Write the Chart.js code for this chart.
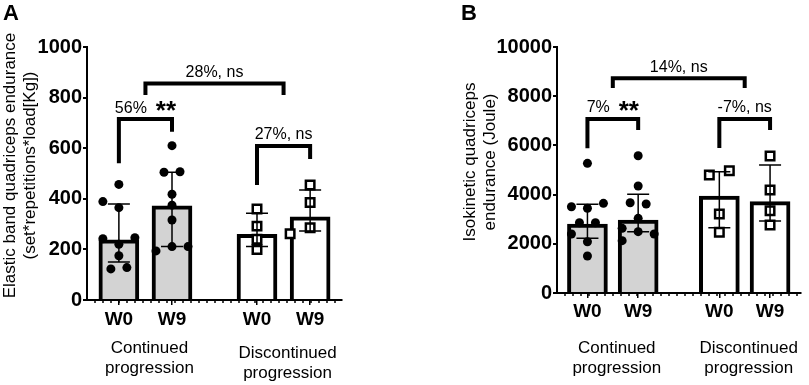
<!DOCTYPE html>
<html>
<head>
<meta charset="utf-8">
<script src="https://cdn.jsdelivr.net/npm/chart.js@4.4.0/dist/chart.umd.min.js"></script>
<style>
  body { margin: 0; background: #fff; }
  canvas { position: absolute; top: 0; }
</style>
</head>
<body>
<canvas id="chartA" width="400" height="385" style="left:0"></canvas>
<canvas id="chartB" width="409" height="385" style="left:400px"></canvas>
<script>
// categories shared by both panels
const categories = ['W0', 'W9', 'W0', 'W9'];
const groupOf = [0, 0, 1, 1];
const groupNames = [['Continued', 'progression'], ['Discontinued', 'progression']];

// panel A - elastic band endurance
const elasticBars = [238, 372, 260, 329];
const elasticLow = [150, 211, 211, 273];
const elasticHigh = [379, 505, 343, 435];
const elasticPoints = [
  [457, 365, 389, 220, 175, 242, 246, 128, 123],
  [610, 507, 505, 418, 375, 316, 211, 194, 211],
  [360, 292, 240, 200],
  [455, 385, 286, 262]
];
const elasticTicks = [0, 200, 400, 600, 800, 1000];
const elasticBrackets = [
  { from: 0, to: 1, level: 715, legs: [541, 665], text: '56%', stars: '**' },
  { from: 0.5, to: 2.5, level: 856, legs: [810, 810], text: '28%, ns' },
  { from: 2, to: 3, level: 609, legs: [455, 557], text: '27%, ns' }
];

// panel B - isokinetic endurance
const isoBars = [2805, 2967, 3943, 3713];
const isoLow = [2223, 2493, 2655, 2927];
const isoHigh = [3606, 4012, 4932, 5203];
const isoPoints = [
  [5272, 3443, 3508, 3646, 2858, 2858, 2085, 2398, 1504],
  [5581, 4350, 3618, 3671, 3035, 2493, 2629, 2398, 2127],
  [4973, 4797, 3211, 2466],
  [5569, 4187, 3346, 2764]
];
const isoTicks = [0, 2000, 4000, 6000, 8000, 10000];
const isoBrackets = [
  { from: 0, to: 1, level: 7073, legs: [5882, 6626], text: '7%', stars: '**' },
  { from: 0.5, to: 2.5, level: 8728, legs: [8330, 8330], text: '14%, ns' },
  { from: 2, to: 3, level: 7073, legs: [5894, 6626], text: '-7%, ns' }
];

const FONT = 'Arial, "Liberation Sans", sans-serif';
const GAP = 0.6; // extra space between the two groups

Chart.defaults.font.family = FONT;
Chart.defaults.color = '#000';

// x value of a bar (fractional index = midpoint of two bars)
function pos(i) {
  const p = k => k + 1 + groupOf[k] * GAP;
  return (p(Math.floor(i)) + p(Math.ceil(i))) / 2;
}

const markers = groupOf.map(g => g === 0
  ? { style: 'circle', radius: 4.5, bg: '#000', border: 0, step: 16, size: 10 }
  : { style: 'rect', radius: 6, bg: '#fff', border: 2.5, step: 20, size: 10 });

function decorPlugin(p) {
  return {
    id: 'decor',
    afterDatasetsDraw(chart) {
      const { ctx, chartArea: a, scales: { x, y } } = chart;
      ctx.save();
      ctx.strokeStyle = '#000';

      // error bars
      ctx.lineWidth = 1.5;
      p.bars.forEach((v, i) => {
        const px = x.getPixelForValue(pos(i));
        const y1 = y.getPixelForValue(p.low[i]);
        const y2 = y.getPixelForValue(p.high[i]);
        ctx.beginPath();
        ctx.moveTo(px, y1); ctx.lineTo(px, y2);
        ctx.moveTo(px - 11, y1); ctx.lineTo(px + 11, y1);
        ctx.moveTo(px - 11, y2); ctx.lineTo(px + 11, y2);
        ctx.stroke();
      });

      // minor ticks along the x axis
      ctx.lineWidth = 1.5;
      for (let px = a.left + 8; px < a.right; px += 8) {
        ctx.beginPath();
        ctx.moveTo(px, a.bottom); ctx.lineTo(px, a.bottom + 3);
        ctx.stroke();
      }

      // comparison brackets
      p.brackets.forEach(b => {
        const xl = x.getPixelForValue(pos(b.from));
        const xr = x.getPixelForValue(pos(b.to));
        const yl = y.getPixelForValue(b.level);
        ctx.lineWidth = 4;
        ctx.lineJoin = 'miter';
        ctx.beginPath();
        ctx.moveTo(xl, y.getPixelForValue(b.legs[0]));
        ctx.lineTo(xl, yl);
        ctx.lineTo(xr, yl);
        ctx.lineTo(xr, y.getPixelForValue(b.legs[1]));
        ctx.stroke();

        const main = b.stars ? b.text + '  ' : b.text;
        ctx.font = '16px ' + FONT;
        const w1 = ctx.measureText(main).width;
        ctx.font = 'bold 26px ' + FONT;
        const w2 = b.stars ? ctx.measureText(b.stars).width : 0;
        const tx = (xl + xr) / 2 - (w1 + w2) / 2;
        const ty = yl - 11;
        ctx.fillStyle = '#000';
        ctx.textAlign = 'left';
        ctx.textBaseline = 'middle';
        ctx.font = '16px ' + FONT;
        ctx.fillText(main, tx, ty);
        if (b.stars) {
          ctx.font = 'bold 26px ' + FONT;
          ctx.textBaseline = 'alphabetic';
          ctx.fillText(b.stars, tx + w1, ty + 10.5);
        }
      });
      ctx.restore();
    },
    afterDraw(chart) {
      const { ctx, chartArea: a, scales: { x } } = chart;
      ctx.save();
      ctx.fillStyle = '#000';

      // panel letter
      ctx.font = 'bold 22px ' + FONT;
      ctx.textAlign = 'left';
      ctx.textBaseline = 'alphabetic';
      ctx.fillText(p.letter, p.letterX, 20);

      // y title
      ctx.font = '17px ' + FONT;
      ctx.textAlign = 'center';
      ctx.textBaseline = 'middle';
      ctx.save();
      ctx.translate(p.titleX, (a.top + a.bottom) / 2 - 8);
      ctx.rotate(-Math.PI / 2);
      p.yTitle.forEach((line, k) => ctx.fillText(line, 0, k * 20.4));
      ctx.restore();

      // group labels
      groupNames.forEach((lines, g) => {
        const idx = groupOf.map((v, i) => v === g ? i : -1).filter(i => i >= 0);
        const cx = idx.reduce((s, i) => s + x.getPixelForValue(pos(i)), 0) / idx.length + 4;
        lines.forEach((line, k) => ctx.fillText(line, cx, p.groupY[g] + k * 20));
      });
      ctx.restore();
    }
  };
}

// spread overlapping points sideways, like a column scatter
function placePoints(chart, p) {
  const xs = chart.scales.x, ys = chart.scales.y;
  const unit = xs.getPixelForValue(1) - xs.getPixelForValue(0);
  p.points.forEach((vals, i) => {
    const m = markers[i];
    const placed = [];
    vals.forEach(v => {
      const py = ys.getPixelForValue(v);
      for (const k of [0, -1, 1, -2, 2, -3, 3]) {
        const dx = k * m.step;
        if (!placed.some(q => Math.abs(q.py - py) < m.size && Math.abs(q.dx - dx) < m.size)) {
          placed.push({ v, py, dx });
          break;
        }
      }
    });
    placed.forEach(q => {
      if (q.dx === 0) return;
      const row = placed.filter(r => Math.abs(r.py - q.py) < m.size);
      if (row.length !== 2) return;
      const other = row.find(r => r !== q);
      if (other.dx === 0 && Math.abs(other.py - q.py) < m.size / 2) {
        other.dx = -q.dx / 2;
        q.dx = q.dx / 2;
      }
    });
    chart.data.datasets[i + 1].data = placed.map(q => ({ x: pos(i) + q.dx / unit, y: q.v }));
  });
  chart.update('none');
}

function makePanel(id, p) {
  const datasets = [{
    type: 'bar',
    data: p.bars.map((v, i) => ({ x: pos(i), y: v })),
    backgroundColor: groupOf.map(g => g === 0 ? '#d3d3d3' : '#ffffff'),
    borderColor: '#000',
    borderWidth: 4,
    borderSkipped: 'start',
    barThickness: 40,
    order: 10
  }];
  p.points.forEach((vals, i) => {
    const m = markers[i];
    datasets.push({
      type: 'scatter',
      data: vals.map(v => ({ x: pos(i), y: v })),
      pointStyle: m.style,
      pointRadius: m.radius,
      pointBackgroundColor: m.bg,
      pointBorderColor: '#000',
      pointBorderWidth: m.border,
      order: 0
    });
  });

  const chart = new Chart(document.getElementById(id), {
    type: 'bar',
    data: { datasets: datasets },
    options: {
      responsive: false,
      animation: false,
      devicePixelRatio: 1,
      events: [],
      layout: { padding: { top: 47, right: p.padRight, left: 0, bottom: 0 } },
      plugins: { legend: { display: false }, tooltip: { enabled: false } },
      scales: {
        x: {
          type: 'linear',
          min: 0.4,
          max: 5.2,
          offset: false,
          afterBuildTicks: s => { s.ticks = categories.map((c, i) => ({ value: pos(i) })); },
          afterFit: s => { s.height = p.xHeight; },
          ticks: {
            autoSkip: false,
            maxRotation: 0,
            padding: p.xPad,
            font: { size: 19, weight: 'bold' },
            callback: (v, i) => categories[i]
          },
          grid: { drawOnChartArea: false, offset: false, tickLength: 5, color: '#000', lineWidth: 1.5 },
          border: { color: '#000', width: 2 }
        },
        y: {
          min: p.ticks[0],
          max: p.ticks[p.ticks.length - 1],
          afterBuildTicks: s => { s.ticks = p.ticks.map(v => ({ value: v })); },
          afterFit: s => { s.width = p.yWidth; },
          ticks: { padding: 1, font: { size: 20, weight: 'bold' }, callback: v => String(v) },
          grid: { drawOnChartArea: false, tickLength: 4, color: '#000', lineWidth: 2 },
          border: { color: '#000', width: 2 }
        }
      }
    },
    plugins: [decorPlugin(p)]
  });
  placePoints(chart, p);
  return chart;
}

makePanel('chartA', {
  bars: elasticBars, low: elasticLow, high: elasticHigh, points: elasticPoints,
  ticks: elasticTicks, brackets: elasticBrackets,
  yTitle: ['Elastic band quadriceps endurance', '(set*repetitions*load[Kg])'],
  letter: 'A', letterX: 3, titleX: 10,
  yWidth: 87, xHeight: 85, padRight: 58, xPad: 3, groupY: [348, 353]
});

makePanel('chartB', {
  bars: isoBars, low: isoLow, high: isoHigh, points: isoPoints,
  ticks: isoTicks, brackets: isoBrackets,
  yTitle: ['Isokinetic quadriceps', 'endurance (Joule)'],
  letter: 'B', letterX: 61, titleX: 70,
  yWidth: 157, xHeight: 92, padRight: 0, xPad: 2, groupY: [348, 348]
});
</script>
</body>
</html>
